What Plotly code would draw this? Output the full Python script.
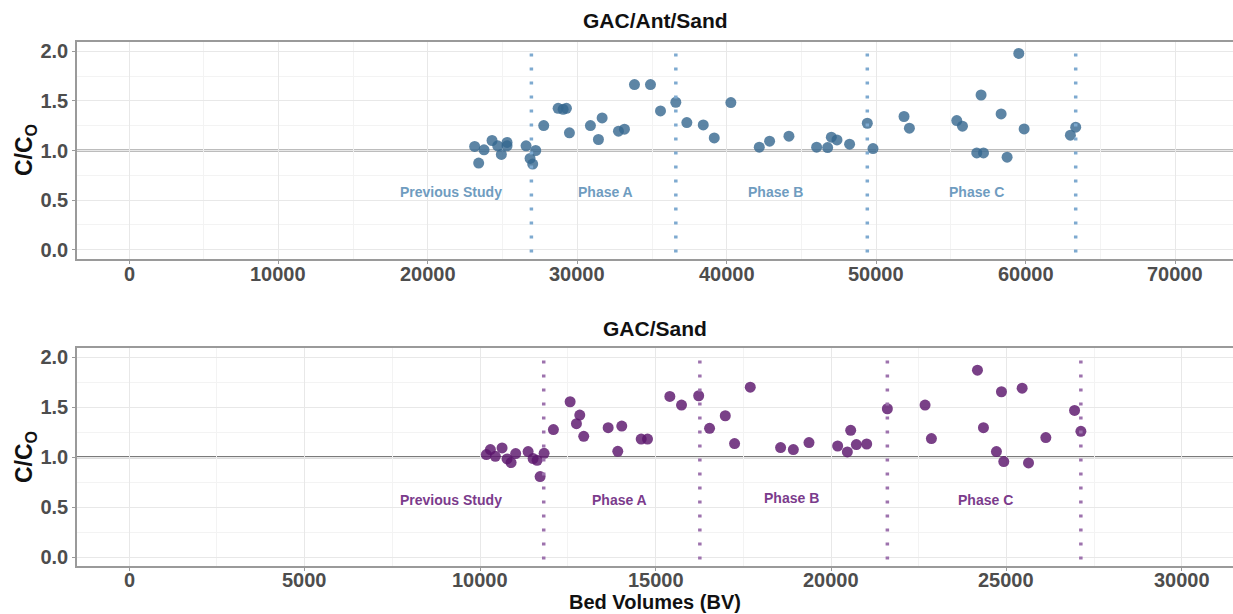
import plotly.graph_objects as go
from plotly.subplots import make_subplots

# ---- GAC/Ant/Sand (top) ----
top_bv = [23130, 23398, 23757, 24293, 24670, 24917, 25297, 25297, 26570, 26838, 27014, 27215,
          27751, 28715, 29050, 29271, 29472, 30877, 31413, 31661, 32753, 33155, 33825, 34896,
          35566, 36592, 37329, 38427, 39163, 40276, 42177, 42867, 44162, 46015, 46752, 46999,
          47377, 48221, 49407, 49787, 51864, 52223, 55393, 55775, 56733, 57182, 57021, 58361,
          58763, 59545, 59902, 62997, 63353]
top_cc = [1.041, 0.873, 1.007, 1.101, 1.047, 0.960, 1.081, 1.047, 1.047, 0.920, 0.863, 1.000,
          1.252, 1.426, 1.416, 1.426, 1.178, 1.252, 1.111, 1.329, 1.195, 1.215, 1.665, 1.665,
          1.399, 1.487, 1.282, 1.258, 1.127, 1.484, 1.034, 1.094, 1.144, 1.034, 1.030, 1.134,
          1.107, 1.064, 1.275, 1.020, 1.343, 1.225, 1.302, 1.245, 0.976, 0.976, 1.560, 1.369,
          0.933, 1.980, 1.218, 1.155, 1.235]
top_phase_lines = [26926, 36592, 49407, 63353]
top_label_x = [21570, 31903, 43250, 56686]

# ---- GAC/Sand (bottom) ----
bot_bv = [10181, 10295, 10437, 10628, 10771, 10885, 11016, 11370, 11512, 11626, 11712, 11826,
          12091, 12567, 12842, 12747, 12955, 13651, 13925, 14039, 14592, 14772, 15408, 15741,
          16230, 16540, 16988, 17253, 17700, 18564, 18927, 19373, 20190, 20466, 20561, 20723,
          21017, 21606, 22680, 22861, 24173, 24344, 24714, 24857, 24923, 25446, 25628, 26121,
          26940, 27120]
bot_cc = [1.025, 1.075, 1.008, 1.092, 0.982, 0.945, 1.035, 1.055, 0.985, 0.968, 0.805, 1.038,
          1.275, 1.554, 1.421, 1.334, 1.208, 1.294, 1.058, 1.311, 1.181, 1.181, 1.607, 1.521,
          1.614, 1.288, 1.414, 1.135, 1.700, 1.095, 1.075, 1.145, 1.111, 1.052, 1.268, 1.125,
          1.131, 1.484, 1.521, 1.185, 1.870, 1.294, 1.055, 1.654, 0.955, 1.690, 0.942, 1.195,
          1.467, 1.258]
bot_phase_lines = [11815, 16263, 21606, 27119]
bot_label_x = [9182, 13964, 18878, 24401]

phase_labels = ["Previous Study", "Phase A", "Phase B", "Phase C"]
top_label_y = [0.578, 0.578, 0.578, 0.578]
bot_label_y = [0.566, 0.566, 0.586, 0.573]

x_ticks_top = [0, 10000, 20000, 30000, 40000, 50000, 60000, 70000]
x_ticks_bot = [0, 5000, 10000, 15000, 20000, 25000, 30000]
y_ticks = [0.0, 0.5, 1.0, 1.5, 2.0]

TOP_PT = "rgba(52,103,142,0.80)"
TOP_TXT = "#6f9cc0"
TOP_LINE = "#7eaad0"
BOT_PT = "rgba(92,22,108,0.82)"
BOT_TXT = "#7b3b8c"
BOT_LINE = "#9d72ad"
FONT = "Liberation Sans"
TICK_FONT = dict(family=FONT, size=20, color="#4d4d4d", weight="bold")

fig = make_subplots(rows=2, cols=1, vertical_spacing=0.0)

fig.add_trace(go.Scatter(x=top_bv, y=top_cc, mode="markers",
                         marker=dict(size=11, color=TOP_PT, line=dict(width=0)),
                         showlegend=False), row=1, col=1)
fig.add_trace(go.Scatter(x=bot_bv, y=bot_cc, mode="markers",
                         marker=dict(size=11, color=BOT_PT, line=dict(width=0)),
                         showlegend=False), row=2, col=1)

for row, xr in ((1, "x"), (2, "x2")):
    yr = "y" if row == 1 else "y2"
    fig.add_shape(type="line", xref=f"{xr} domain", yref=yr, x0=0, x1=1, y0=1, y1=1,
                  line=dict(color="#7a7a7a", width=2.2), layer="below")

for xv in top_phase_lines:
    fig.add_shape(type="line", xref="x", yref="y domain", x0=xv, x1=xv, y0=0.03, y1=0.97,
                  line=dict(color=TOP_LINE, width=3.5, dash="3px,11px"))
for xv in bot_phase_lines:
    fig.add_shape(type="line", xref="x2", yref="y2 domain", x0=xv, x1=xv, y0=0.03, y1=0.97,
                  line=dict(color=BOT_LINE, width=3.5, dash="3px,11px"))

for lx, ly, t in zip(top_label_x, top_label_y, phase_labels):
    fig.add_annotation(x=lx, y=ly, xref="x", yref="y", text=f"<b>{t}</b>", showarrow=False,
                       font=dict(family=FONT, size=14, color=TOP_TXT))
for lx, ly, t in zip(bot_label_x, bot_label_y, phase_labels):
    fig.add_annotation(x=lx, y=ly, xref="x2", yref="y2", text=f"<b>{t}</b>", showarrow=False,
                       font=dict(family=FONT, size=14, color=BOT_TXT))

H = 614
M_T, M_B = 42, 48
plot_h = H - M_T - M_B
def py(pix):
    return (H - M_B - pix) / plot_h

top_dom = [py(259), 1.0]
bot_dom = [0.0, py(347.7)]

axis_common = dict(showline=True, linecolor="#9a9a9a", linewidth=1.5,
                   ticks="outside", ticklen=3, tickcolor="#9a9a9a", tickwidth=1,
                   showgrid=True, gridcolor="#e8e8e8", gridwidth=1,
                   tickfont=TICK_FONT, zeroline=False)

fig.update_xaxes(**axis_common, mirror=True, range=[-3483, 73880], tickvals=x_ticks_top,
                 showticklabels=False,
                 minor=dict(dtick=5000, showgrid=True, gridcolor="#f3f3f3", gridwidth=1, ticks=""),
                 row=1, col=1)
fig.update_xaxes(**axis_common, mirror=True, range=[-1483, 31454], tickvals=x_ticks_bot,
                 showticklabels=False,
                 minor=dict(dtick=2500, showgrid=True, gridcolor="#f3f3f3", gridwidth=1, ticks=""),
                 row=2, col=1)
fig.update_yaxes(**axis_common, mirror=False, range=[-0.095, 2.095], tickvals=y_ticks,
                 ticktext=[f"{v:.1f}" for v in y_ticks], domain=top_dom,
                 minor=dict(dtick=0.25, showgrid=True, gridcolor="#f3f3f3", gridwidth=1, ticks=""),
                 row=1, col=1)
fig.update_yaxes(**axis_common, mirror=False, range=[-0.09, 2.095], tickvals=y_ticks,
                 ticktext=[f"{v:.1f}" for v in y_ticks], domain=bot_dom,
                 minor=dict(dtick=0.25, showgrid=True, gridcolor="#f3f3f3", gridwidth=1, ticks=""),
                 row=2, col=1)

# x tick labels as annotations (placed closer to the axis, like the reference)
for v in x_ticks_top:
    fig.add_annotation(x=v, xref="x", yref="paper", y=py(274), yanchor="middle",
                       text=str(v), showarrow=False, font=TICK_FONT)
for v in x_ticks_bot:
    fig.add_annotation(x=v, xref="x2", yref="paper", y=py(580), yanchor="middle",
                       text=str(v), showarrow=False, font=TICK_FONT)

# Titles
fig.add_annotation(xref="paper", yref="paper", x=0.5, y=py(21), yanchor="middle",
                   text="<b>GAC/Ant/Sand</b>", showarrow=False,
                   font=dict(family=FONT, size=21, color="#111111"))
fig.add_annotation(xref="paper", yref="paper", x=0.5, y=py(329), yanchor="middle",
                   text="<b>GAC/Sand</b>", showarrow=False,
                   font=dict(family=FONT, size=21, color="#111111"))
fig.add_annotation(xref="paper", yref="paper", x=0.5, y=py(602), yanchor="middle",
                   text="<b>Bed Volumes (BV)</b>", showarrow=False,
                   font=dict(family=FONT, size=20, color="#111111"))
for ycen in (py(150), py(457)):
    fig.add_annotation(xref="paper", yref="paper", x=(25 - 77) / 1156, y=ycen,
                       xanchor="center", yanchor="middle", textangle=-90,
                       text="<b>C/C<sub>O</sub></b>", showarrow=False,
                       font=dict(family=FONT, size=23, color="#111111"))

fig.update_layout(width=1233, height=614, margin=dict(l=77, r=0, t=M_T, b=M_B),
                  paper_bgcolor="white", plot_bgcolor="white", showlegend=False)

fig.write_html("out.html")
